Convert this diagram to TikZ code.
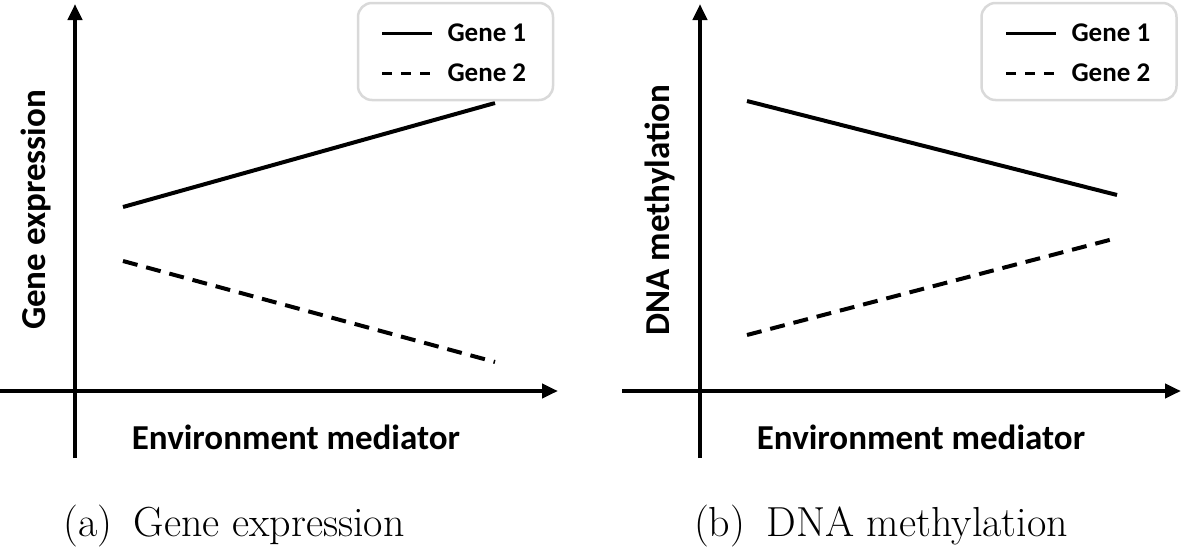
\documentclass[tikz,border=0pt]{standalone}
\usepackage{fontspec}
\newfontfamily\axfont{Carlito}
\usetikzlibrary{arrows.meta}

\tikzset{
  axis/.style={->,line width=4pt},
  trend/.style={line width=4pt},
  trenddash/.style={line width=4pt,dash pattern=on 15pt off 9pt},
  legbox/.style={draw=black!15,line width=2.5pt,rounded corners=14pt,minimum width=195pt,minimum height=97pt},
  axlabel/.style={font=\axfont\bfseries\fontsize{35}{40}\selectfont},
  leglabel/.style={anchor=west,font=\axfont\bfseries\fontsize{27}{32}\selectfont},
  caption/.style={anchor=base,font=\fontsize{42}{47}\selectfont}
}

\begin{document}
\begin{tikzpicture}[>={Triangle[length=16pt,width=14pt]},x=1pt,y=-1pt]
	\useasboundingbox (0,0) rectangle (1181,549);

	% (a) gene expression
	\coordinate (aYb) at (75,458);
	\coordinate (aYt) at (75,4);
	\coordinate (aXl) at (0,391);
	\coordinate (aXr) at (558,391);
	\draw[axis] (aYb) -- (aYt);
	\draw[axis] (aXl) -- (aXr);

	\coordinate (aS1) at (123,207);
	\coordinate (aS2) at (495,103);
	\coordinate (aD1) at (123,261);
	\coordinate (aD2) at (495,362);
	\draw[trend] (aS1) -- (aS2);
	\draw[trenddash] (aD1) -- (aD2);

	\node[legbox] (lega) at (455.5,51.5) {};
	\coordinate (la1) at (382,33);
	\coordinate (la2) at (432,33);
	\coordinate (la3) at (382,73);
	\coordinate (la4) at (432,73);
	\draw[line width=3pt] (la1) -- (la2);
	\draw[line width=3pt,dash pattern=on 10pt off 9pt] (la3) -- (la4);
	\node[leglabel] (ga1) at (444,33) {Gene 1};
	\node[leglabel] (ga2) at (444,73) {Gene 2};

	\node[axlabel] (envA) at (296,437) {Environment mediator};
	\node[axlabel,rotate=90] (geneA) at (36,210) {Gene expression};
	\node[caption] (capA) at (234,536) {(a)\hspace{0.2em} Gene expression};

	% (b) DNA methylation
	\coordinate (bYb) at (700,458);
	\coordinate (bYt) at (700,4);
	\coordinate (bXl) at (622,391);
	\coordinate (bXr) at (1181,391);
	\draw[axis] (bYb) -- (bYt);
	\draw[axis] (bXl) -- (bXr);

	\coordinate (bS1) at (747,101);
	\coordinate (bS2) at (1117,195);
	\coordinate (bD1) at (747,335);
	\coordinate (bD2) at (1117,238);
	\draw[trend] (bS1) -- (bS2);
	\draw[trenddash] (bD1) -- (bD2);

	\node[legbox] (legb) at (1079,51.5) {};
	\coordinate (lb1) at (1006,33);
	\coordinate (lb2) at (1056,33);
	\coordinate (lb3) at (1006,73);
	\coordinate (lb4) at (1056,73);
	\draw[line width=3pt] (lb1) -- (lb2);
	\draw[line width=3pt,dash pattern=on 10pt off 9pt] (lb3) -- (lb4);
	\node[leglabel] (gb1) at (1068,33) {Gene 1};
	\node[leglabel] (gb2) at (1068,73) {Gene 2};

	\node[axlabel] (envB) at (921,437) {Environment mediator};
	\node[axlabel,rotate=90] (dnaB) at (660,210) {DNA methylation};
	\node[caption] (capB) at (881,536) {(b)\hspace{0.2em} DNA methylation};
\end{tikzpicture}
\end{document}
